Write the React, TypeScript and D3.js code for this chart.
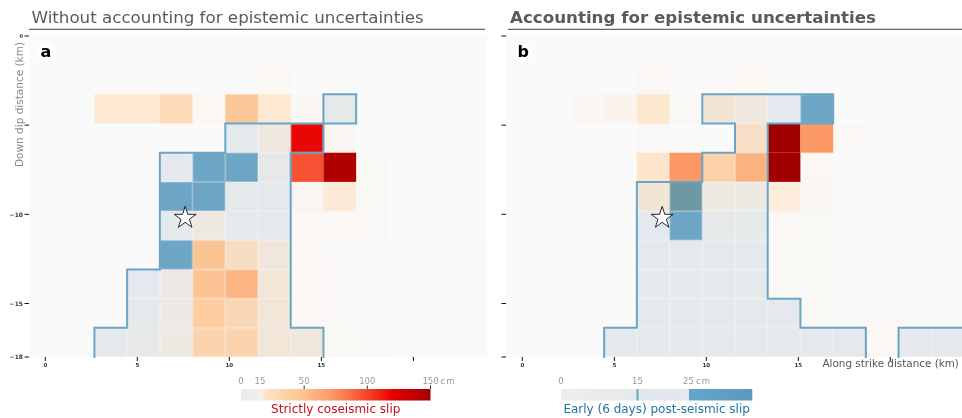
import React from 'react';
import * as d3 from 'd3';

const WIDTH = 962;
const HEIGHT = 418;

// ---------- data ----------
const titles = ['Without accounting for epistemic uncertainties', 'Accounting for epistemic uncertainties'];
const panelLetters = ['a', 'b'];
const xTicks = [0, 5, 10, 15, 20];
const xTickLabels = ['0', '5', '10', '15', ''];
const yTicks = [0, -5, -10, -15, -18];
const yTickLabels = ['0', '', '−10', '−15', '−18'];
const xDomain = [-0.886, 24.0];
const yDomain = [-18, 0];
const hypocenter = [7.6, -10.2];
const nCols = 14;
const nRows = 11;

// coseismic slip (cm), rows top->bottom, cols left->right
const coseismicA = [
  [0, 0, 0, 0, 0, 0, 0, 0, 0, 0, 0, 0, 0, 0],
  [0, 0, 0, 0, 0, 0, 0, 8, 0, 0, 0, 0, 0, 0],
  [0, 0, 25, 25, 33, 8, 46, 25, 6, 4, 0, 0, 0, 0],
  [0, 0, 0, 0, 0, 0, 2, 18, 118, 10, 0, 0, 0, 0],
  [0, 0, 0, 0, 3, 0, 0, 5, 96, 143, 4, 0, 0, 0],
  [0, 0, 0, 0, 0, 0, 2, 2, 10, 24, 4, 0, 0, 0],
  [0, 0, 0, 0, 2, 16, 2, 2, 5, 5, 3, 0, 0, 0],
  [0, 0, 0, 0, 0, 48, 30, 20, 5, 3, 2, 2, 2, 2],
  [0, 0, 0, 0, 14, 47, 56, 21, 5, 3, 2, 2, 2, 2],
  [0, 0, 0, 2, 14, 40, 34, 21, 5, 3, 2, 2, 2, 2],
  [0, 0, 2, 6, 16, 36, 36, 21, 20, 4, 3, 2, 2, 2],
];

// early post-seismic slip (cm)
const postA = [
  [0, 0, 0, 0, 0, 0, 0, 0, 0, 0, 0, 0, 0, 0],
  [0, 0, 0, 0, 0, 0, 0, 0, 0, 0, 0, 0, 0, 0],
  [0, 0, 0, 0, 0, 0, 0, 0, 0, 18, 0, 0, 0, 0],
  [0, 0, 0, 0, 0, 0, 18, 18, 18, 0, 0, 0, 0, 0],
  [0, 0, 0, 0, 18, 30, 30, 18, 0, 0, 0, 0, 0, 0],
  [0, 0, 0, 0, 30, 30, 18, 18, 0, 0, 0, 0, 0, 0],
  [0, 0, 0, 0, 18, 18, 18, 18, 0, 0, 0, 0, 0, 0],
  [0, 0, 0, 0, 30, 18, 18, 18, 0, 0, 0, 0, 0, 0],
  [0, 0, 0, 18, 18, 18, 18, 18, 0, 0, 0, 0, 0, 0],
  [0, 0, 0, 18, 18, 18, 18, 18, 0, 0, 0, 0, 0, 0],
  [0, 0, 18, 18, 18, 18, 18, 18, 18, 0, 0, 0, 0, 0],
];

const coseismicB = [
  [0, 0, 0, 0, 0, 0, 0, 0, 0, 0, 0, 0, 0, 0],
  [0, 0, 0, 0, 5, 0, 0, 8, 0, 0, 0, 0, 0, 0],
  [0, 0, 6, 13, 26, 4, 22, 18, 0, 0, 0, 0, 0, 0],
  [0, 0, 0, 0, 3, 0, 0, 28, 150, 72, 5, 0, 0, 0],
  [0, 0, 0, 0, 28, 72, 38, 58, 150, 7, 0, 0, 0, 0],
  [0, 0, 0, 0, 22, 26, 16, 15, 22, 6, 0, 0, 0, 0],
  [0, 0, 0, 0, 0, 0, 4, 4, 5, 4, 3, 0, 0, 0],
  [0, 0, 0, 0, 2, 2, 2, 2, 4, 4, 3, 3, 3, 3],
  [0, 0, 0, 0, 2, 2, 2, 2, 4, 4, 3, 3, 3, 3],
  [0, 0, 0, 0, 2, 2, 2, 2, 3, 4, 3, 3, 3, 3],
  [0, 0, 0, 2, 2, 2, 2, 2, 3, 3, 3, 5, 3, 3],
];

const postB = [
  [0, 0, 0, 0, 0, 0, 0, 0, 0, 0, 0, 0, 0, 0],
  [0, 0, 0, 0, 0, 0, 0, 0, 0, 0, 0, 0, 0, 0],
  [0, 0, 0, 0, 0, 0, 18, 18, 18, 30, 0, 0, 0, 0],
  [0, 0, 0, 0, 0, 0, 0, 18, 0, 0, 0, 0, 0, 0],
  [0, 0, 0, 0, 0, 0, 18, 18, 0, 0, 0, 0, 0, 0],
  [0, 0, 0, 0, 18, 30, 18, 18, 0, 0, 0, 0, 0, 0],
  [0, 0, 0, 0, 18, 30, 18, 18, 0, 0, 0, 0, 0, 0],
  [0, 0, 0, 0, 18, 18, 18, 18, 0, 0, 0, 0, 0, 0],
  [0, 0, 0, 0, 18, 18, 18, 18, 0, 0, 0, 0, 0, 0],
  [0, 0, 0, 0, 18, 18, 18, 18, 18, 0, 0, 0, 0, 0],
  [0, 0, 0, 18, 18, 18, 18, 18, 18, 18, 18, 0, 18, 18],
];

const coseismicBarTicks = [0, 15, 50, 100, 150];
const coseismicBarMarks = [50, 100, 150];
const postBarTicks = [0, 15, 25];
const postThresholds = [15, 25];
const barUnit = 'cm';
const coseismicLabel = 'Strictly coseismic slip';
const postLabel = 'Early (6 days) post-seismic slip';
const xLabel = 'Along strike distance (km)';
const yLabel = 'Down dip distance (km)';

// ---------- styles / scales ----------
const FONT = 'DejaVu Sans, sans-serif';
const BLUE = '#6fa8c8';
const LIGHT = '#e3e9ee';
const OUTLINE = '#6aa4c7';

const cosColor = d3
  .scaleLinear<string>()
  .domain([15, 30, 50, 75, 100, 120, 150])
  .range(['#fde9d2', '#fdd8b0', '#fcc18f', '#fb925f', '#f5452a', '#e60000', '#a00000'])
  .clamp(true);
const cosAlpha = d3.scaleLinear().domain([0, 40]).range([0, 1]).clamp(true);
const postFill = d3.scaleThreshold<number, string | null>().domain(postThresholds).range([null, LIGHT, BLUE]);

const PLOT = { x0: 29, x1: 487, y0: 36, y1: 357 };
const PANEL_DX = [0, 477];

type PanelProps = {
  idx: number;
  cos: number[][];
  post: number[][];
};

function Panel({ idx, cos, post }: PanelProps) {
  const dx = PANEL_DX[idx];
  const x0 = PLOT.x0 + dx;
  const x1 = PLOT.x1 + dx;
  const x = d3.scaleLinear().domain(xDomain).range([x0, x1]);
  const y = d3.scaleLinear().domain(yDomain).range([PLOT.y1, PLOT.y0]);
  const col = d3.scaleBand<number>().domain(d3.range(nCols)).range([x0, x1]);
  const row = d3.scaleBand<number>().domain(d3.range(nRows)).range([PLOT.y0, PLOT.y1]);
  const cw = col.bandwidth();
  const rh = row.bandwidth();

  const cells: { r: number; c: number; cv: number; pv: number }[] = [];
  for (let r = 0; r < nRows; r++) for (let c = 0; c < nCols; c++) cells.push({ r, c, cv: cos[r][c], pv: post[r][c] });

  const inReg = (r: number, c: number) => r >= 0 && r < nRows && c >= 0 && c < nCols && post[r][c] >= postThresholds[0];
  const path = d3.path();
  cells.forEach(({ r, c }) => {
    if (!inReg(r, c)) return;
    const L = col(c)!, R = L + cw, T = row(r)!, B = T + rh;
    if (!inReg(r - 1, c)) { path.moveTo(L, T); path.lineTo(R, T); }
    if (r < nRows - 1 && !inReg(r + 1, c)) { path.moveTo(L, B); path.lineTo(R, B); }
    if (!inReg(r, c - 1)) { path.moveTo(L, T); path.lineTo(L, B); }
    if (c < nCols - 1 && !inReg(r, c + 1)) { path.moveTo(R, T); path.lineTo(R, B); }
  });

  const star = d3.symbol().type(d3.symbolStar).size(150)();
  const isLeft = idx === 0;

  return (
    <g>
      {/* title */}
      <text
        x={isLeft ? 31.5 : 510}
        y={22.5}
        fontFamily={FONT}
        fontSize={16.7}
        fontWeight={isLeft ? 'normal' : 'bold'}
        fill="#5a5a5a"
      >
        {titles[idx]}
      </text>
      <line x1={isLeft ? 29 : 508} x2={isLeft ? 485 : 962} y1={29.3} y2={29.3} stroke="#666" strokeWidth={1.2} />

      {/* background */}
      <rect x={x0} y={PLOT.y0 - 1} width={x1 - x0} height={PLOT.y1 - PLOT.y0 + 1} fill="#fafafa" />

      {/* light post-seismic layer */}
      {cells.map(({ r, c, pv }) =>
        postFill(pv) === LIGHT ? (
          <rect key={`l${r}-${c}`} x={col(c)} y={row(r)} width={cw} height={rh} fill={LIGHT} />
        ) : null
      )}
      {/* coseismic layer */}
      {cells.map(({ r, c, cv }) =>
        cv > 0 ? (
          <rect
            key={`c${r}-${c}`}
            x={col(c)}
            y={row(r)}
            width={cw}
            height={rh}
            fill={cosColor(cv)}
            fillOpacity={cosAlpha(cv)}
          />
        ) : null
      )}
      {/* strong post-seismic layer */}
      {cells.map(({ r, c, pv }) =>
        postFill(pv) === BLUE ? (
          <rect
            key={`b${r}-${c}`}
            x={col(c)}
            y={row(r)}
            width={cw}
            height={rh}
            fill={BLUE}
            style={{ mixBlendMode: 'multiply' }}
          />
        ) : null
      )}
      {/* faint cell grid inside region */}
      {cells.map(({ r, c, pv }) =>
        pv >= postThresholds[0] ? (
          <rect
            key={`g${r}-${c}`}
            x={col(c)! + 0.5}
            y={row(r)! + 0.5}
            width={cw - 1}
            height={rh - 1}
            fill="none"
            stroke="#ffffff"
            strokeOpacity={0.25}
            strokeWidth={1}
          />
        ) : null
      )}
      {/* outline */}
      <path d={path.toString()} fill="none" stroke={OUTLINE} strokeWidth={2} strokeLinecap="square" />

      {/* hypocenter */}
      <path
        d={star!}
        transform={`translate(${x(hypocenter[0])},${y(hypocenter[1])})`}
        fill="#ffffff"
        stroke="#111"
        strokeWidth={0.9}
      />

      {/* panel letter */}
      <circle cx={x0 + 16.5} cy={52} r={9.5} fill="#ffffff" />
      <text x={x0 + 11.5} y={56.7} fontFamily={FONT} fontSize={16} fontWeight="bold" fill="#000">
        {panelLetters[idx]}
      </text>

      {/* y axis */}
      {yTicks.map((t, i) => (
        <g key={`yt${i}`}>
          <line x1={x0 - 4.5} x2={x0} y1={y(t)} y2={y(t)} stroke="#111" strokeWidth={1} />
          {isLeft && yTickLabels[i] ? (
            <text
              x={x0 - 6}
              y={y(t) + 2.2}
              textAnchor="end"
              fontFamily={FONT}
              fontSize={t === 0 ? 5 : 6}
              fontWeight="bold"
              fill="#333"
            >
              {yTickLabels[i]}
            </text>
          ) : null}
        </g>
      ))}
      {isLeft ? (
        <text
          transform={`translate(23,42) rotate(-90)`}
          textAnchor="end"
          fontFamily={FONT}
          fontSize={10.5}
          fill="#8a8a8a"
        >
          {yLabel}
        </text>
      ) : null}

      {/* x axis */}
      {xTicks.map((t, i) => (
        <g key={`xt${i}`}>
          <line x1={x(t)} x2={x(t)} y1={PLOT.y1} y2={PLOT.y1 + 4} stroke="#111" strokeWidth={1} />
          {xTickLabels[i] ? (
            <text
              x={x(t)}
              y={366.5}
              textAnchor="middle"
              fontFamily={FONT}
              fontSize={5.5}
              fontWeight="bold"
              fill="#333"
            >
              {xTickLabels[i]}
            </text>
          ) : null}
        </g>
      ))}
      {!isLeft ? (
        <text x={822.5} y={367} fontFamily={FONT} fontSize={10.4} fill="#555">
          {xLabel}
        </text>
      ) : null}
    </g>
  );
}

function CoseismicBar() {
  const s = d3.scaleLinear().domain([0, 150]).range([241, 430.5]);
  const top = 389;
  const h = 11.5;
  const stopsV = [20, 30, 40, 50, 60, 75, 90, 100, 110, 120, 135, 150];
  return (
    <g>
      <defs>
        <linearGradient id="cosGrad" x1="0" x2="1" y1="0" y2="0">
          <stop offset="0" stopColor="#ebebeb" />
          <stop offset={15 / 150} stopColor="#efefef" />
          <stop offset={15 / 150} stopColor="#fdf3e8" />
          {stopsV.map((v) => (
            <stop key={v} offset={v / 150} stopColor={cosColor(v)} />
          ))}
        </linearGradient>
      </defs>
      <rect x={s(0)} y={top} width={s(150) - s(0)} height={h} fill="url(#cosGrad)" />
      {coseismicBarMarks.map((v) => (
        <line key={v} x1={s(v)} x2={s(v)} y1={top - 3.5} y2={top} stroke="#333" strokeWidth={1} />
      ))}
      {coseismicBarTicks.map((v, i) => (
        <g key={v}>
          <text x={s(v)} y={383.5} textAnchor="middle" fontFamily={FONT} fontSize={8.5} fill="#999">
            {v}
          </text>
          {i === coseismicBarTicks.length - 1 ? (
            <text x={s(v) + 10} y={383.5} fontFamily={FONT} fontSize={8.5} fill="#999" letterSpacing={1}>
              {barUnit}
            </text>
          ) : null}
        </g>
      ))}
      <text x={(s(0) + s(150)) / 2} y={413} textAnchor="middle" fontFamily={FONT} fontSize={12} fill="#c4101a">
        {coseismicLabel}
      </text>
    </g>
  );
}

function PostBar() {
  const maxV = 37.5;
  const s = d3.scaleLinear().domain([0, maxV]).range([561, 752.3]);
  const top = 389;
  const h = 11.5;
  const [t1, t2] = postThresholds;
  return (
    <g>
      <defs>
        <linearGradient id="postGrad" x1="0" x2="1" y1="0" y2="0">
          <stop offset="0" stopColor="#ededed" />
          <stop offset={t1 / maxV} stopColor="#e6e9ec" />
          <stop offset={t1 / maxV} stopColor="#dfe6ec" />
          <stop offset={t2 / maxV} stopColor="#e3e9ee" />
          <stop offset={t2 / maxV} stopColor="#63a6cc" />
          <stop offset="1" stopColor="#5d98be" />
        </linearGradient>
      </defs>
      <rect x={s(0)} y={top} width={s(maxV) - s(0)} height={h} fill="url(#postGrad)" />
      <line x1={s(t1)} x2={s(t1)} y1={top} y2={top + h} stroke={OUTLINE} strokeWidth={2} />
      {postBarTicks.map((v, i) => (
        <g key={v}>
          <text x={s(v)} y={383.5} textAnchor="middle" fontFamily={FONT} fontSize={8.5} fill="#999">
            {v}
          </text>
          {i === postBarTicks.length - 1 ? (
            <text x={s(v) + 7.5} y={383.5} fontFamily={FONT} fontSize={8.5} fill="#999" letterSpacing={1}>
              {barUnit}
            </text>
          ) : null}
        </g>
      ))}
      <text x={(s(0) + s(maxV)) / 2} y={413} textAnchor="middle" fontFamily={FONT} fontSize={12} fill="#1f72aa">
        {postLabel}
      </text>
    </g>
  );
}

export default function App() {
  return (
    <svg
      width={WIDTH}
      height={HEIGHT}
      style={{ position: 'absolute', left: 0, top: 0, background: '#ffffff' }}
    >
      <rect x={0} y={0} width={WIDTH} height={HEIGHT} fill="#ffffff" />
      <Panel idx={0} cos={coseismicA} post={postA} />
      <Panel idx={1} cos={coseismicB} post={postB} />
      <CoseismicBar />
      <PostBar />
    </svg>
  );
}
